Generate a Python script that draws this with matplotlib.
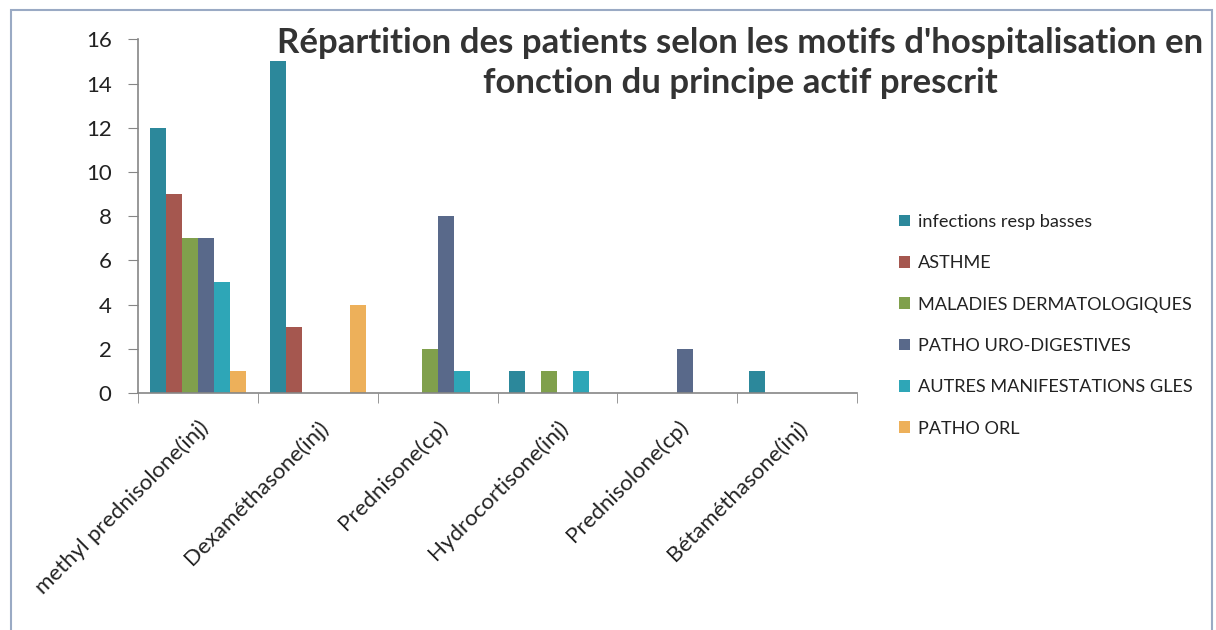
import matplotlib
matplotlib.use("Agg")
import matplotlib.pyplot as plt
import matplotlib.transforms as mtransforms
import numpy as np
from matplotlib.patches import Rectangle, Patch

categories = ["methyl prednisolone(inj)", "Dexaméthasone(inj)", "Prednisone(cp)",
              "Hydrocortisone(inj)", "Prednisolone(cp)", "Bétaméthasone(inj)"]
series_names = ["infections resp basses", "ASTHME", "MALADIES DERMATOLOGIQUES",
                "PATHO URO-DIGESTIVES", "AUTRES MANIFESTATIONS GLES", "PATHO ORL"]
infections = [12, 15, 0, 1, 0, 1]
asthme = [9, 3, 0, 0, 0, 0]
dermato = [7, 0, 2, 1, 0, 0]
uro_dig = [7, 0, 8, 0, 2, 0]
autres = [5, 0, 1, 1, 0, 0]
orl = [1, 4, 0, 0, 0, 0]
values = [infections, asthme, dermato, uro_dig, autres, orl]
colors = ["#2C889B", "#A5574F", "#80A04C", "#59698A", "#2EA6B7", "#EDB05A"]
yticks = [0, 2, 4, 6, 8, 10, 12, 14, 16]

plt.rcParams['font.family'] = ['Lato', 'DejaVu Sans']
W, H = 1216, 630
fig = plt.figure(figsize=(W / 100, H / 100), dpi=100)

ax = fig.add_axes([138 / W, (H - 393) / H, (857 - 138) / W, (393 - 39.3) / H])
n = len(series_names)
bw = 0.8 / n
x = np.arange(len(categories))
for i, (name, vals, c) in enumerate(zip(series_names, values, colors)):
    ax.bar(x - 0.4 + bw * (i + 0.5), vals, width=bw, color=c, label=name, linewidth=0)

ax.set_xlim(-0.5, len(categories) - 0.5)
ax.set_ylim(0, 16)
ax.set_yticks(yticks)
ax.set_yticklabels([str(t) for t in yticks], fontsize=16, color="#222222")
ax.set_xticks(x)
ax.set_xticklabels(categories, rotation=45, ha='right', va='top', rotation_mode='anchor',
                   fontsize=16, color="#222222")
shift = mtransforms.ScaledTranslation(-5 / 100, 0, fig.dpi_scale_trans)
for lbl in ax.get_xticklabels():
    lbl.set_transform(lbl.get_transform() + shift)
ax.set_xticks(np.arange(len(categories) + 1) - 0.5, minor=True)
ax.tick_params(axis='x', which='major', length=0, pad=17)
ax.tick_params(axis='x', which='minor', length=7, color="#868686", direction='out')
ax.tick_params(axis='y', length=7, color="#868686", direction='out', pad=12)
for s in ['top', 'right']:
    ax.spines[s].set_visible(False)
for s in ['left', 'bottom']:
    ax.spines[s].set_color("#868686")
    ax.spines[s].set_linewidth(1.2)

fig.text(740 / W, 1 - 63 / H,
         "Répartition des patients selon les motifs d'hospitalisation en\nfonction du principe actif prescrit",
         ha='center', va='center', fontsize=25, fontweight='bold', color="#333333",
         linespacing=1.32)

handles = [Patch(facecolor=c, edgecolor='none') for c in colors]
fig.legend(handles, series_names, loc='upper left',
           bbox_to_anchor=(890 / W, 1 - 205 / H), frameon=False, fontsize=13.1,
           handlelength=0.6, handleheight=0.6, handletextpad=0.45,
           labelspacing=1.39, borderpad=0, labelcolor="#222222")

fig.patches.append(Rectangle((11 / W, -0.1), (1212 - 11) / W, 1.1 - 10 / H,
                             transform=fig.transFigure, fill=False,
                             edgecolor="#9AAAC4", linewidth=1.5))

fig.savefig("out.png", dpi=100)
